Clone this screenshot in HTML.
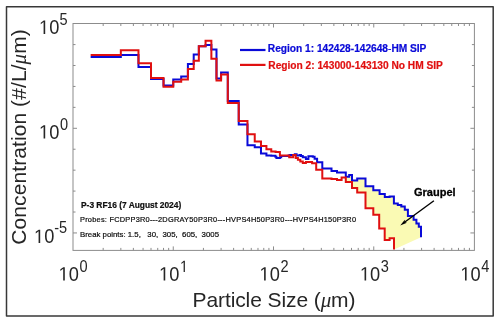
<!DOCTYPE html>
<html><head><meta charset="utf-8"><style>
html,body{margin:0;padding:0;background:#fff;}
svg{display:block;will-change:transform;font-family:"Liberation Sans",sans-serif;}
</style></head><body>
<svg width="500" height="323" viewBox="0 0 500 323">
<rect x="0" y="0" width="500" height="323" fill="#fff"/>
<rect x="6.5" y="6.8" width="486.7" height="309.2" fill="none" stroke="#383838" stroke-width="1.5" stroke-linejoin="round"/>
<polygon points="345.80,172.50 345.80,176.70 349.20,176.70 349.20,175.10 352.00,175.10 352.00,180.40 357.20,180.40 357.20,178.60 365.50,178.60 365.50,186.30 373.30,186.30 373.30,190.30 379.60,190.30 379.60,194.00 384.80,194.00 384.80,197.00 389.60,197.00 389.60,196.60 393.90,196.60 393.90,203.60 397.80,203.60 397.80,205.00 401.30,205.00 401.30,206.60 404.80,206.60 404.80,209.80 407.90,209.80 407.90,216.00 413.60,216.00 413.60,219.80 416.40,219.80 416.40,223.60 418.80,223.60 418.80,226.80 421.00,226.80 421.00,237.30 394.00,249.50 394.00,238.20 389.60,238.20 389.60,240.00 384.70,240.00 384.70,228.50 379.20,228.50 379.20,214.80 373.30,214.80 373.30,208.30 365.50,208.30 365.50,192.50 357.20,192.50 357.20,188.00 352.00,188.00 352.00,182.00 345.80,182.00 345.80,177.60" fill="#fafab4" stroke="none"/>
<g stroke="#8c8c8c" stroke-width="1" fill="none">
<rect x="73.0" y="23.5" width="401.40" height="226.90"/>
<line x1="103.18" y1="250.4" x2="103.18" y2="247.9"/><line x1="103.18" y1="23.5" x2="103.18" y2="26.0"/><line x1="120.83" y1="250.4" x2="120.83" y2="247.9"/><line x1="120.83" y1="23.5" x2="120.83" y2="26.0"/><line x1="133.36" y1="250.4" x2="133.36" y2="247.9"/><line x1="133.36" y1="23.5" x2="133.36" y2="26.0"/><line x1="143.07" y1="250.4" x2="143.07" y2="247.9"/><line x1="143.07" y1="23.5" x2="143.07" y2="26.0"/><line x1="151.01" y1="250.4" x2="151.01" y2="247.9"/><line x1="151.01" y1="23.5" x2="151.01" y2="26.0"/><line x1="157.72" y1="250.4" x2="157.72" y2="247.9"/><line x1="157.72" y1="23.5" x2="157.72" y2="26.0"/><line x1="163.53" y1="250.4" x2="163.53" y2="247.9"/><line x1="163.53" y1="23.5" x2="163.53" y2="26.0"/><line x1="168.66" y1="250.4" x2="168.66" y2="247.9"/><line x1="168.66" y1="23.5" x2="168.66" y2="26.0"/><line x1="173.25" y1="250.4" x2="173.25" y2="246.4"/><line x1="173.25" y1="23.5" x2="173.25" y2="27.5"/><line x1="203.43" y1="250.4" x2="203.43" y2="247.9"/><line x1="203.43" y1="23.5" x2="203.43" y2="26.0"/><line x1="221.08" y1="250.4" x2="221.08" y2="247.9"/><line x1="221.08" y1="23.5" x2="221.08" y2="26.0"/><line x1="233.61" y1="250.4" x2="233.61" y2="247.9"/><line x1="233.61" y1="23.5" x2="233.61" y2="26.0"/><line x1="243.32" y1="250.4" x2="243.32" y2="247.9"/><line x1="243.32" y1="23.5" x2="243.32" y2="26.0"/><line x1="251.26" y1="250.4" x2="251.26" y2="247.9"/><line x1="251.26" y1="23.5" x2="251.26" y2="26.0"/><line x1="257.97" y1="250.4" x2="257.97" y2="247.9"/><line x1="257.97" y1="23.5" x2="257.97" y2="26.0"/><line x1="263.78" y1="250.4" x2="263.78" y2="247.9"/><line x1="263.78" y1="23.5" x2="263.78" y2="26.0"/><line x1="268.91" y1="250.4" x2="268.91" y2="247.9"/><line x1="268.91" y1="23.5" x2="268.91" y2="26.0"/><line x1="273.50" y1="250.4" x2="273.50" y2="246.4"/><line x1="273.50" y1="23.5" x2="273.50" y2="27.5"/><line x1="303.68" y1="250.4" x2="303.68" y2="247.9"/><line x1="303.68" y1="23.5" x2="303.68" y2="26.0"/><line x1="321.33" y1="250.4" x2="321.33" y2="247.9"/><line x1="321.33" y1="23.5" x2="321.33" y2="26.0"/><line x1="333.86" y1="250.4" x2="333.86" y2="247.9"/><line x1="333.86" y1="23.5" x2="333.86" y2="26.0"/><line x1="343.57" y1="250.4" x2="343.57" y2="247.9"/><line x1="343.57" y1="23.5" x2="343.57" y2="26.0"/><line x1="351.51" y1="250.4" x2="351.51" y2="247.9"/><line x1="351.51" y1="23.5" x2="351.51" y2="26.0"/><line x1="358.22" y1="250.4" x2="358.22" y2="247.9"/><line x1="358.22" y1="23.5" x2="358.22" y2="26.0"/><line x1="364.03" y1="250.4" x2="364.03" y2="247.9"/><line x1="364.03" y1="23.5" x2="364.03" y2="26.0"/><line x1="369.16" y1="250.4" x2="369.16" y2="247.9"/><line x1="369.16" y1="23.5" x2="369.16" y2="26.0"/><line x1="373.75" y1="250.4" x2="373.75" y2="246.4"/><line x1="373.75" y1="23.5" x2="373.75" y2="27.5"/><line x1="403.93" y1="250.4" x2="403.93" y2="247.9"/><line x1="403.93" y1="23.5" x2="403.93" y2="26.0"/><line x1="421.58" y1="250.4" x2="421.58" y2="247.9"/><line x1="421.58" y1="23.5" x2="421.58" y2="26.0"/><line x1="434.11" y1="250.4" x2="434.11" y2="247.9"/><line x1="434.11" y1="23.5" x2="434.11" y2="26.0"/><line x1="443.82" y1="250.4" x2="443.82" y2="247.9"/><line x1="443.82" y1="23.5" x2="443.82" y2="26.0"/><line x1="451.76" y1="250.4" x2="451.76" y2="247.9"/><line x1="451.76" y1="23.5" x2="451.76" y2="26.0"/><line x1="458.47" y1="250.4" x2="458.47" y2="247.9"/><line x1="458.47" y1="23.5" x2="458.47" y2="26.0"/><line x1="464.28" y1="250.4" x2="464.28" y2="247.9"/><line x1="464.28" y1="23.5" x2="464.28" y2="26.0"/><line x1="469.41" y1="250.4" x2="469.41" y2="247.9"/><line x1="469.41" y1="23.5" x2="469.41" y2="26.0"/><line x1="73.0" y1="232.95" x2="77.0" y2="232.95"/><line x1="474.4" y1="232.95" x2="470.4" y2="232.95"/><line x1="73.0" y1="212.02" x2="75.5" y2="212.02"/><line x1="474.4" y1="212.02" x2="471.9" y2="212.02"/><line x1="73.0" y1="191.09" x2="75.5" y2="191.09"/><line x1="474.4" y1="191.09" x2="471.9" y2="191.09"/><line x1="73.0" y1="170.16" x2="75.5" y2="170.16"/><line x1="474.4" y1="170.16" x2="471.9" y2="170.16"/><line x1="73.0" y1="149.23" x2="75.5" y2="149.23"/><line x1="474.4" y1="149.23" x2="471.9" y2="149.23"/><line x1="73.0" y1="128.30" x2="77.0" y2="128.30"/><line x1="474.4" y1="128.30" x2="470.4" y2="128.30"/><line x1="73.0" y1="107.37" x2="75.5" y2="107.37"/><line x1="474.4" y1="107.37" x2="471.9" y2="107.37"/><line x1="73.0" y1="86.44" x2="75.5" y2="86.44"/><line x1="474.4" y1="86.44" x2="471.9" y2="86.44"/><line x1="73.0" y1="65.51" x2="75.5" y2="65.51"/><line x1="474.4" y1="65.51" x2="471.9" y2="65.51"/><line x1="73.0" y1="44.58" x2="75.5" y2="44.58"/><line x1="474.4" y1="44.58" x2="471.9" y2="44.58"/>
</g>
<polyline points="90.65,56.90 120.83,56.90 120.83,55.00 138.48,55.00 138.48,66.90 151.01,66.90 151.01,79.00 163.53,79.00 163.53,85.50 173.25,85.50 173.25,79.60 181.19,79.60 181.19,76.50 187.90,76.50 187.90,64.00 193.71,64.00 193.71,54.50 198.84,54.50 198.84,46.30 205.55,46.30 205.55,44.90 211.37,44.90 211.37,49.50 216.49,49.50 216.49,78.60 221.08,78.60 221.08,72.60 227.79,72.60 227.79,100.90 238.73,100.90 238.73,124.40 247.47,124.40 247.47,145.20 254.74,145.20 254.74,147.30 260.97,147.30 260.97,153.60 266.42,153.60 266.42,155.50 271.26,155.50 271.26,155.80 275.40,155.80 275.40,156.70 276.40,156.70 276.40,157.90 279.90,157.90 279.90,157.20 281.20,157.20 281.20,156.10 288.60,156.10 288.60,155.50 289.80,155.50 289.80,154.90 294.80,154.90 294.80,154.30 296.60,154.30 296.60,155.50 299.70,155.50 299.70,154.90 301.00,154.90 301.00,156.10 302.80,156.10 302.80,157.30 305.90,157.30 305.90,159.00 308.40,159.00 308.40,156.30 312.80,156.30 312.80,156.80 314.60,156.80 314.60,158.70 317.10,158.70 317.10,162.30 322.30,162.30 322.30,168.60 331.50,168.60 331.50,171.00 337.00,171.00 337.00,172.50 345.80,172.50 345.80,176.70 349.20,176.70 349.20,175.10 352.00,175.10 352.00,180.40 357.20,180.40 357.20,178.60 365.50,178.60 365.50,186.30 373.30,186.30 373.30,190.30 379.60,190.30 379.60,194.00 384.80,194.00 384.80,197.00 389.60,197.00 389.60,196.60 393.90,196.60 393.90,203.60 397.80,203.60 397.80,205.00 401.30,205.00 401.30,206.60 404.80,206.60 404.80,209.80 407.90,209.80 407.90,216.00 413.60,216.00 413.60,219.80 416.40,219.80 416.40,223.60 418.80,223.60 418.80,226.80 421.00,226.80 421.00,237.30" fill="none" stroke="#0a0ad8" stroke-width="2.0" stroke-linejoin="miter"/>
<polyline points="90.65,55.00 120.83,55.00 120.83,50.20 138.48,50.20 138.48,63.20 151.01,63.20 151.01,78.10 163.53,78.10 163.53,86.80 173.25,86.80 173.25,81.80 181.19,81.80 181.19,79.40 187.90,79.40 187.90,69.00 193.71,69.00 193.71,60.70 198.84,60.70 198.84,46.30 205.55,46.30 205.55,40.80 211.37,40.80 211.37,58.80 216.49,58.80 216.49,80.40 221.08,80.40 221.08,74.50 227.79,74.50 227.79,103.00 238.73,103.00 238.73,121.00 247.47,121.00 247.47,134.30 254.74,134.30 254.74,141.40 260.97,141.40 260.97,146.00 266.42,146.00 266.42,149.30 271.26,149.30 271.26,151.60 275.62,151.60 275.62,151.90 279.90,151.90 279.90,155.40 289.20,155.40 289.20,157.30 293.20,157.30 293.20,155.00 295.70,155.00 295.70,158.00 297.90,158.00 297.90,159.80 300.30,159.80 300.30,161.50 302.80,161.50 302.80,162.90 305.90,162.90 305.90,162.00 312.10,162.00 312.10,163.30 316.20,163.30 316.20,169.80 322.30,169.80 322.30,178.40 331.50,178.40 331.50,179.00 337.00,179.00 337.00,180.00 341.60,180.00 341.60,177.60 345.80,177.60 345.80,182.00 352.00,182.00 352.00,188.00 357.20,188.00 357.20,192.50 365.50,192.50 365.50,208.30 373.30,208.30 373.30,214.80 379.20,214.80 379.20,228.50 384.70,228.50 384.70,240.00 389.60,240.00 389.60,238.20 394.00,238.20 394.00,249.50" fill="none" stroke="#e01010" stroke-width="2.0" stroke-linejoin="miter"/>
<g fill="#262626" stroke="#fff" stroke-width="0">
<polygon points="43.59,33.90 43.59,22.12 40.76,24.28 40.76,22.66 43.72,20.48 45.20,20.48 45.20,33.90"/><text x="49.15" y="33.90" font-size="19.5" textLength="10.15" lengthAdjust="spacingAndGlyphs">0</text><text x="59.60" y="24.60" font-size="16.2" textLength="8.11" lengthAdjust="spacingAndGlyphs">5</text><polygon points="43.59,138.60 43.59,126.82 40.76,128.98 40.76,127.36 43.72,125.18 45.20,125.18 45.20,138.60"/><text x="49.15" y="138.60" font-size="19.5" textLength="10.15" lengthAdjust="spacingAndGlyphs">0</text><text x="60.00" y="129.60" font-size="16.2" textLength="8.11" lengthAdjust="spacingAndGlyphs">0</text><polygon points="38.59,243.10 38.59,231.32 35.76,233.48 35.76,231.86 38.72,229.68 40.20,229.68 40.20,243.10"/><text x="44.15" y="243.10" font-size="19.5" textLength="10.15" lengthAdjust="spacingAndGlyphs">0</text><text x="54.20" y="233.20" font-size="16.2" textLength="12.96" lengthAdjust="spacingAndGlyphs">-5</text>
<polygon points="63.19,280.60 63.19,268.82 60.36,270.98 60.36,269.36 63.32,267.18 64.80,267.18 64.80,280.60"/><text x="68.75" y="280.60" font-size="19.5" textLength="10.15" lengthAdjust="spacingAndGlyphs">0</text><text x="79.50" y="272.00" font-size="16.2" textLength="8.11" lengthAdjust="spacingAndGlyphs">0</text><polygon points="163.64,280.60 163.64,268.82 160.81,270.98 160.81,269.36 163.77,267.18 165.25,267.18 165.25,280.60"/><text x="169.20" y="280.60" font-size="19.5" textLength="10.15" lengthAdjust="spacingAndGlyphs">0</text><polygon points="183.62,272.00 183.62,262.22 181.35,264.01 181.35,262.67 183.72,260.85 184.90,260.85 184.90,272.00"/><polygon points="264.09,280.60 264.09,268.82 261.26,270.98 261.26,269.36 264.22,267.18 265.70,267.18 265.70,280.60"/><text x="269.65" y="280.60" font-size="19.5" textLength="10.15" lengthAdjust="spacingAndGlyphs">0</text><text x="280.40" y="272.00" font-size="16.2" textLength="8.11" lengthAdjust="spacingAndGlyphs">2</text><polygon points="364.54,280.60 364.54,268.82 361.71,270.98 361.71,269.36 364.67,267.18 366.15,267.18 366.15,280.60"/><text x="370.10" y="280.60" font-size="19.5" textLength="10.15" lengthAdjust="spacingAndGlyphs">0</text><text x="380.85" y="272.00" font-size="16.2" textLength="8.11" lengthAdjust="spacingAndGlyphs">3</text><polygon points="464.99,280.60 464.99,268.82 462.16,270.98 462.16,269.36 465.12,267.18 466.60,267.18 466.60,280.60"/><text x="470.55" y="280.60" font-size="19.5" textLength="10.15" lengthAdjust="spacingAndGlyphs">0</text><text x="481.30" y="272.00" font-size="16.2" textLength="8.11" lengthAdjust="spacingAndGlyphs">4</text>
<text x="192.5" y="306.6" font-size="21" stroke="none" textLength="163" lengthAdjust="spacing">Particle Size (<tspan font-family="Liberation Serif" font-style="italic" font-size="21">μ</tspan>m)</text>
<text transform="translate(25.6,244.7) rotate(-90)" font-size="21" stroke="none" textLength="215.5" lengthAdjust="spacing">Concentration (#/L/<tspan font-family="Liberation Serif" font-style="italic" font-size="21">μ</tspan>m)</text>
</g>
<line x1="240" y1="50" x2="265.5" y2="50" stroke="#0a0ad8" stroke-width="2.2"/>
<line x1="240" y1="64.9" x2="265.5" y2="64.9" stroke="#e01010" stroke-width="2.2"/>
<text x="267.8" y="52.4" font-size="10.2" font-weight="bold" fill="#0a0ad8" stroke="#0a0ad8" stroke-width="0.2" textLength="158.6" lengthAdjust="spacing">Region 1: 142428-142648<tspan font-weight="normal">-</tspan>HM SIP</text>
<text x="268.3" y="69.0" font-size="10.2" font-weight="bold" fill="#e01010" stroke="#e01010" stroke-width="0.2" textLength="174.6" lengthAdjust="spacing">Region 2: 143000-143130 No HM SIP</text>
<g fill="#111" stroke="none">
<text x="81" y="208.4" font-size="8.4" font-weight="bold" stroke="#000" stroke-width="0.2">P-3 RF16 (7 August 2024)</text>
<text x="80" y="222" font-size="7.4" stroke="#000" stroke-width="0.2" textLength="276" lengthAdjust="spacing">Probes: FCDPP3R0---2DGRAY50P3R0---HVPS4H50P3R0---HVPS4H150P3R0</text>
<text x="80" y="237.4" font-size="7.8" stroke="#000" stroke-width="0.2" xml:space="preserve" textLength="139" lengthAdjust="spacing">Break points: 1.5,   30,  305,  605,  3005</text>
<text x="414" y="196.4" font-size="11" font-weight="bold" stroke="#000" stroke-width="0.3" fill="#000">Graupel</text>
</g>
<line x1="433.9" y1="200.7" x2="404.88" y2="221.97" stroke="#000" stroke-width="1.4"/><polygon points="400.20,225.40 404.78,219.81 404.88,221.97 406.91,222.71" fill="#000"/>
</svg>
</body></html>
